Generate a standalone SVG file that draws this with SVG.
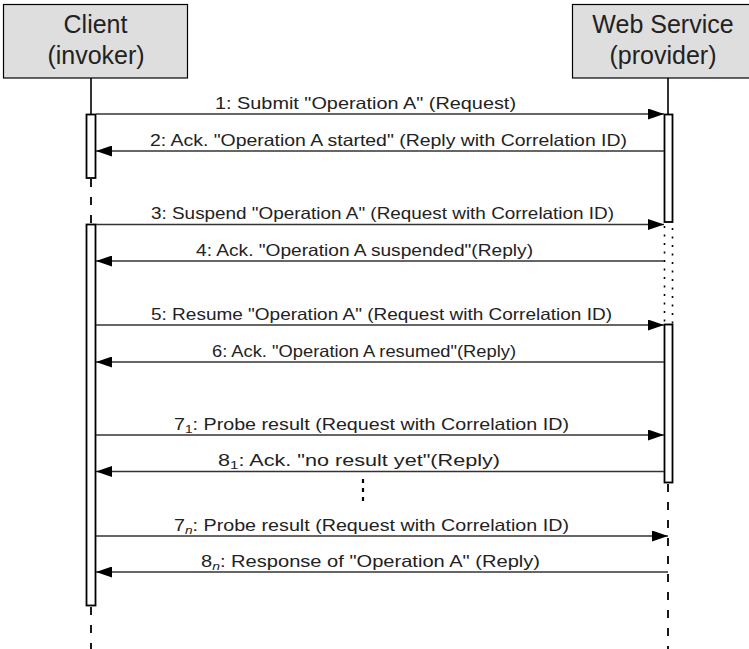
<svg xmlns="http://www.w3.org/2000/svg" width="749" height="649" viewBox="0 0 749 649">
<style>
.hdr{fill:#dedede;stroke:#000;stroke-width:1.2}
.ht{font-family:"Liberation Sans",Arial,sans-serif;font-size:25px;fill:#222;text-anchor:middle}
.lbl{font-family:"Liberation Sans",Arial,sans-serif;font-size:16.5px;fill:#222}
.sub{font-size:11.5px}
.life{stroke:#000;stroke-width:1.6;fill:none}
.dash{stroke:#000;stroke-width:1.8;stroke-dasharray:8 10;fill:none}
.dot{stroke:#000;stroke-width:1.6;stroke-dasharray:2 6.5;fill:none}
.act{fill:#fff;stroke:#000;stroke-width:1.8}
.msg{stroke:#333;stroke-width:1.3;fill:none;marker-end:url(#ah)}
</style>
<defs>
<marker id="ah" markerUnits="userSpaceOnUse" viewBox="0 0 16 11" refX="16" refY="5.5" markerWidth="16" markerHeight="11" orient="auto">
<path d="M0,0 L16,5.5 L0,11 z" fill="#000"/>
</marker>
</defs>
<g id="client">
<rect class="hdr" x="3.5" y="4.5" width="184" height="73.5"/>
<text class="ht" x="95.5" y="33">Client</text>
<text class="ht" x="96" y="64">(invoker)</text>
<line class="life" x1="91" y1="78" x2="91" y2="114"/>
<line class="dash" x1="91" y1="179" x2="91" y2="224"/>
<line class="dash" x1="91" y1="607" x2="91" y2="649"/>
<rect class="act" x="86.5" y="114.5" width="9" height="63.5"/>
<rect class="act" x="86.5" y="224.5" width="9" height="381"/>
</g>
<g id="webservice">
<rect class="hdr" x="572.5" y="4.5" width="182" height="73.5"/>
<text class="ht" x="663" y="33">Web Service</text>
<text class="ht" x="663" y="64">(provider)</text>
<line class="life" x1="668" y1="78" x2="668" y2="114"/>
<line class="dot" x1="664.5" y1="226" x2="664.5" y2="324"/>
<line class="dot" x1="672.5" y1="228" x2="672.5" y2="324"/>
<line class="dash" x1="668" y1="484" x2="668" y2="649"/>
<rect class="act" x="664.5" y="114.5" width="8" height="107.5"/>
<rect class="act" x="664.5" y="324.5" width="8" height="158"/>
</g>
<g id="connectors">
<line class="msg" x1="96" y1="114" x2="664" y2="114"/>
<line class="msg" x1="664" y1="151" x2="96" y2="151"/>
<line class="msg" x1="96" y1="224.5" x2="664" y2="224.5"/>
<line class="msg" x1="664" y1="261" x2="96" y2="261"/>
<line class="msg" x1="96" y1="325" x2="664" y2="325"/>
<line class="msg" x1="664" y1="362" x2="96" y2="362"/>
<line class="msg" x1="96" y1="435" x2="664" y2="435"/>
<line class="msg" x1="664" y1="471.5" x2="96" y2="471.5"/>
<line class="msg" x1="96" y1="536" x2="668" y2="536"/>
<line class="msg" x1="668" y1="572" x2="96" y2="572"/>
<line x1="363" y1="479" x2="363" y2="503" stroke="#000" stroke-width="2.2" stroke-dasharray="4 5"/>
</g>
<g id="labels">
<text class="lbl" x="215" y="108.5" textLength="301" lengthAdjust="spacingAndGlyphs">1:  Submit "Operation A" (Request)</text>
<text class="lbl" x="150" y="145.5" textLength="477" lengthAdjust="spacingAndGlyphs">2:  Ack. "Operation A started" (Reply with Correlation ID)</text>
<text class="lbl" x="151" y="219" textLength="463" lengthAdjust="spacingAndGlyphs">3:  Suspend "Operation A" (Request with Correlation ID)</text>
<text class="lbl" x="196" y="255.5" textLength="337" lengthAdjust="spacingAndGlyphs">4:  Ack. "Operation A suspended"(Reply)</text>
<text class="lbl" x="151" y="319.5" textLength="461" lengthAdjust="spacingAndGlyphs">5:  Resume "Operation A" (Request with Correlation ID)</text>
<text class="lbl" x="212" y="356.5" textLength="304" lengthAdjust="spacingAndGlyphs">6:  Ack. "Operation A resumed"(Reply)</text>
<text class="lbl" x="174" y="429.5" textLength="395" lengthAdjust="spacingAndGlyphs">7<tspan class="sub" dy="3">1</tspan><tspan dy="-3">:  Probe result (Request with Correlation ID)</tspan></text>
<text class="lbl" x="218" y="466" textLength="282" lengthAdjust="spacingAndGlyphs">8<tspan class="sub" dy="3">1</tspan><tspan dy="-3">:  Ack. "no result yet"(Reply)</tspan></text>
<text class="lbl" x="174" y="530.5" textLength="395" lengthAdjust="spacingAndGlyphs">7<tspan class="sub" dy="3" font-style="italic">n</tspan><tspan dy="-3">:  Probe result (Request with Correlation ID)</tspan></text>
<text class="lbl" x="201" y="566.5" textLength="339" lengthAdjust="spacingAndGlyphs">8<tspan class="sub" dy="3" font-style="italic">n</tspan><tspan dy="-3">:  Response of "Operation A" (Reply)</tspan></text>
</g>
</svg>
